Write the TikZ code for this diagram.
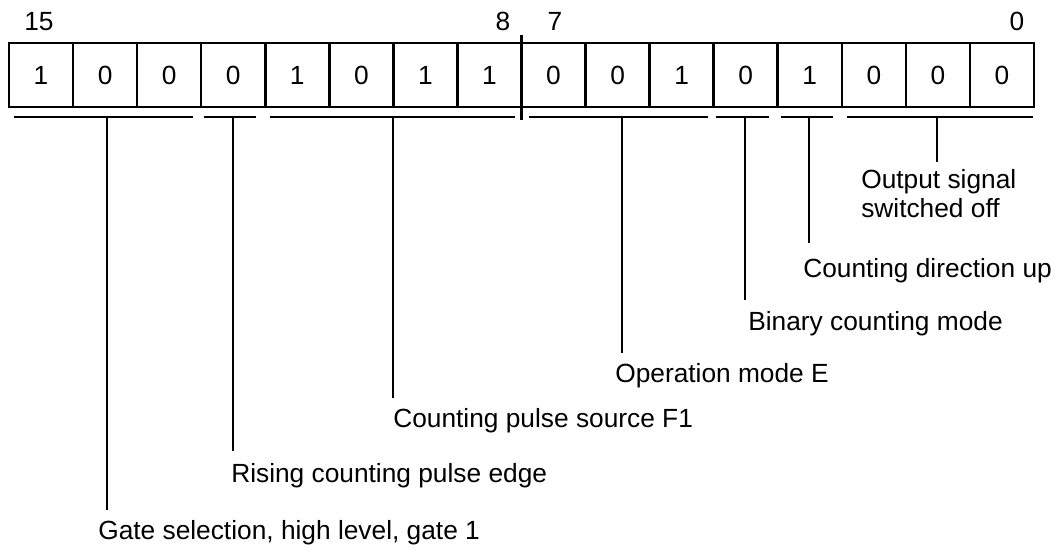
\documentclass[tikz,border=0pt]{standalone}
\usepackage{fontspec}
\setmainfont{Liberation Sans}
\begin{document}
\begin{tikzpicture}[x=1pt,y=-1pt,
  line width=2.6pt,
  cell/.style={draw,minimum width=64.06pt,minimum height=64pt,inner sep=0pt,outer sep=0pt,font=\fontsize{26.3}{31}\selectfont},
  lbl/.style={anchor=base west,inner sep=0pt,font=\fontsize{26.3}{31}\selectfont},
  num/.style={anchor=base,inner sep=0pt,font=\fontsize{26.3}{31}\selectfont},
  ln/.style={line width=2.6pt}]
\useasboundingbox (0,0) rectangle (1055,547);
% cells
\foreach \v [count=\i from 0] in {1,0,0,0,1,0,1,1,0,0,1,0,1,0,0,0}{
  \node[cell] (c\i) at ({9+64.0625*\i+32.03},75) {\v};
}
% bit numbers
\node[lbl] (n15) at (23,30) {15};
\node[num] (n8) at (503,30) {8};
\node[num] (n7) at (555,30) {7};
\node[num] (n0) at (1017,30) {0};
% byte divider
\coordinate (dtop) at (521.5,35);
\coordinate (dbot) at (521.5,120);
\draw[ln] (dtop) -- (dbot);
% group underlines
\foreach \name/\a/\b/\m in {g1/14/193/107, g2/204/256/233, g3/270/515/393, g4/529/708/622, g5/716/769/745, g6/781/833/809, g7/847/1033/937}{
  \coordinate (\name a) at (\a,117);
  \coordinate (\name b) at (\b,117);
  \coordinate (\name) at (\m,117);
  \draw[ln] (\name a) -- (\name b);
}
% end points of leaders
\coordinate (e1) at (107,510);
\coordinate (e2) at (233,451);
\coordinate (e3) at (393,398);
\coordinate (e4) at (622,353);
\coordinate (e5) at (745,300);
\coordinate (e6) at (809,243);
\coordinate (e7) at (937,162);
\draw[ln] (g1) -- (e1);
\draw[ln] (g2) -- (e2);
\draw[ln] (g3) -- (e3);
\draw[ln] (g4) -- (e4);
\draw[ln] (g5) -- (e5);
\draw[ln] (g6) -- (e6);
\draw[ln] (g7) -- (e7);
% labels
\node[lbl] (l1) at (97,539) {Gate selection, high level, gate 1};
\node[lbl] (l2) at (230,482) {Rising counting pulse edge};
\node[lbl] (l3) at (392,427) {Counting pulse source F1};
\node[lbl] (l4) at (614,382) {Operation mode E};
\node[lbl] (l5) at (747,330) {Binary counting mode};
\node[lbl] (l6) at (802,277) {Counting direction up};
\node[lbl] (l7a) at (860,188) {Output signal};
\node[lbl] (l7b) at (860,217) {switched off};
\end{tikzpicture}
\end{document}
